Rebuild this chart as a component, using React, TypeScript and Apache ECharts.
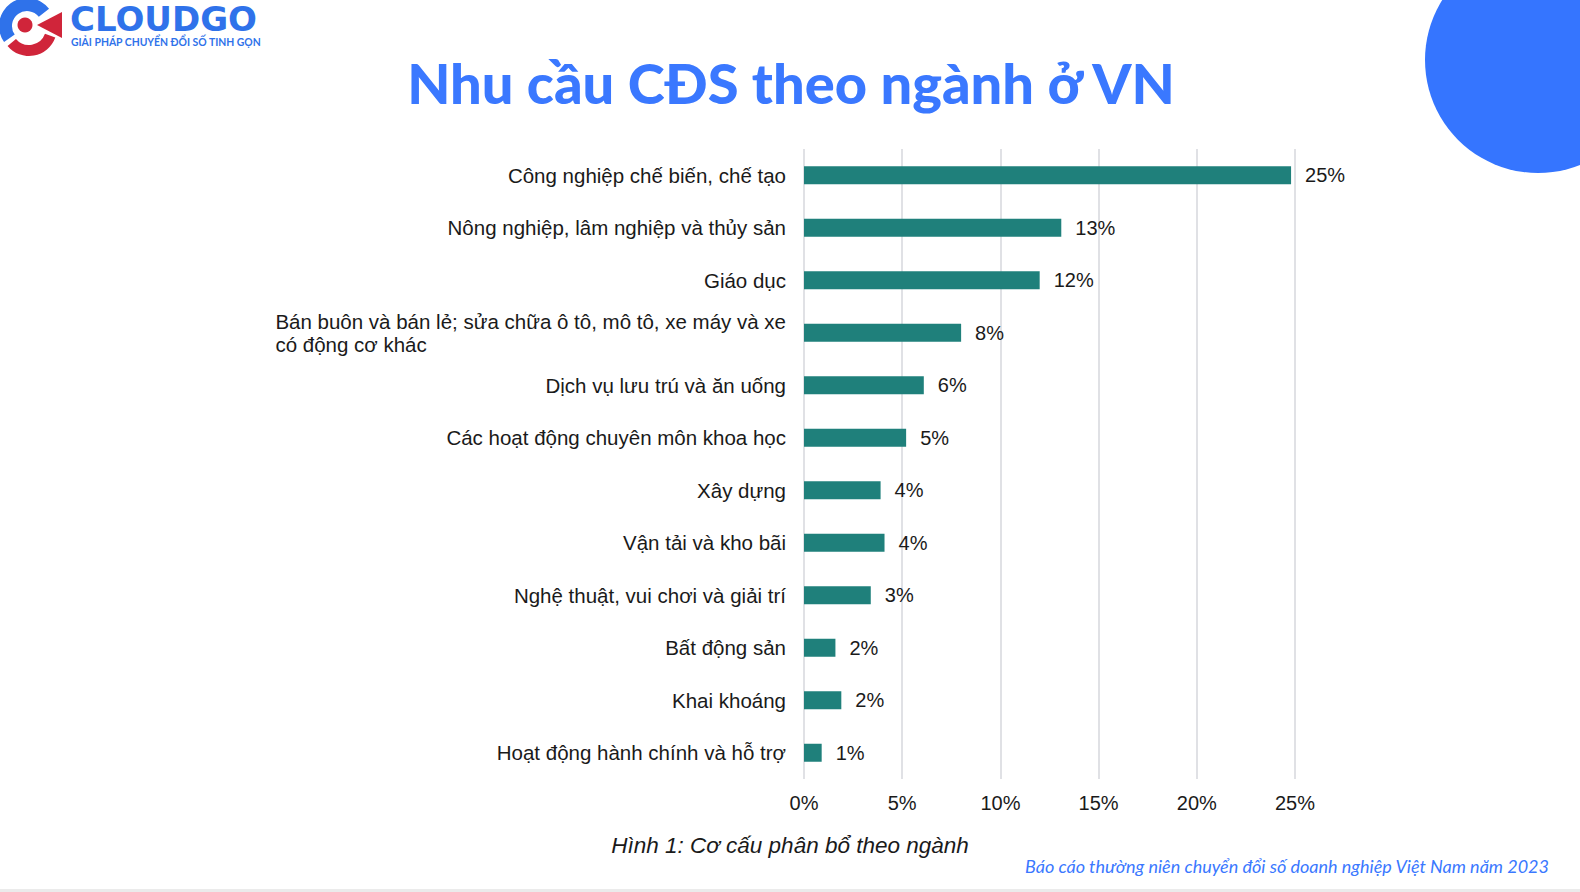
import React, { useEffect, useRef } from "react";
import * as echarts from "echarts";

const categories: string[] = [
  "Công nghiệp chế biến, chế tạo",
  "Nông nghiệp, lâm nghiệp và thủy sản",
  "Giáo dục",
  "Bán buôn và bán lẻ; sửa chữa ô tô, mô tô, xe máy và xe\ncó động cơ khác",
  "Dịch vụ lưu trú và ăn uống",
  "Các hoạt động chuyên môn khoa học",
  "Xây dựng",
  "Vận tải và kho bãi",
  "Nghệ thuật, vui chơi và giải trí",
  "Bất động sản",
  "Khai khoáng",
  "Hoạt động hành chính và hỗ trợ",
];

const shares: number[] = [24.8, 13.1, 12.0, 8.0, 6.1, 5.2, 3.9, 4.1, 3.4, 1.6, 1.9, 0.9];

const xTicks = { min: 0, max: 25, interval: 5 };

const titleText = "Nhu cầu CĐS theo ngành ở VN";
const captionText = "Hình 1: Cơ cấu phân bổ theo ngành";
const sourceText = "Báo cáo thường niên chuyển đổi số doanh nghiệp Việt Nam năm 2023";
const brandName = "CLOUDGO";
const brandTagline = "GIẢI PHÁP CHUYỂN ĐỔI SỐ TINH GỌN";

const BLUE = "#3a78ff";
const TEAL = "#1f807b";
const RED = "#d0253a";
const TEXT = "#1a1a1a";
const LABEL_FONT = 20.5;

export default function App() {
  const ref = useRef<HTMLDivElement>(null);

  useEffect(() => {
    document.body.style.margin = "0";
    if (!ref.current) return;
    const chart = echarts.init(ref.current, undefined, { renderer: "svg" });

    chart.setOption({
      animation: false,
      backgroundColor: "#ffffff",
      grid: {
        left: 804,
        top: 149,
        width: 491,
        height: 630,
        containLabel: false,
        outerBoundsMode: "none",
      },
      xAxis: {
        type: "value",
        min: xTicks.min,
        max: xTicks.max,
        interval: xTicks.interval,
        axisLine: { show: false },
        axisTick: { show: false },
        splitLine: { show: true, lineStyle: { color: "#e0e1e5", width: 2 } },
        axisLabel: {
          formatter: "{value}%",
          fontSize: 20,
          fontFamily: "Liberation Sans",
          color: TEXT,
          margin: 14,
        },
      },
      yAxis: {
        type: "category",
        inverse: true,
        data: categories,
        axisLine: { show: false },
        axisTick: { show: false },
        splitLine: { show: false },
        axisLabel: {
          margin: 18,
          fontSize: LABEL_FONT,
          fontFamily: "Liberation Sans",
          color: TEXT,
          formatter: (v: string) =>
            v
              .split("\n")
              .map((l) => `{l|${l}}`)
              .join("\n"),
          rich: {
            l: {
              align: "left",
              fontSize: LABEL_FONT,
              lineHeight: 23,
              fontFamily: "Liberation Sans",
              color: TEXT,
            },
          },
        },
      },
      series: [
        {
          type: "bar",
          data: shares,
          barWidth: 18,
          itemStyle: { color: TEAL },
          label: {
            show: true,
            position: "right",
            distance: 14,
            fontSize: 20,
            fontFamily: "Liberation Sans",
            color: TEXT,
            formatter: (p: any) => `${Math.round(p.value)}%`,
          },
        },
      ],
      graphic: [
        {
          type: "circle",
          shape: { cx: 1538, cy: 60, r: 113 },
          style: { fill: "#3575ff" },
          silent: true,
        },
        {
          type: "rect",
          shape: { x: 0, y: 889, width: 1580, height: 3 },
          style: { fill: "#ebebeb" },
          silent: true,
        },
        // logo icon
        {
          type: "sector",
          shape: {
            cx: 27,
            cy: 26,
            r: 28,
            r0: 15,
            startAngle: (-215 * Math.PI) / 180,
            endAngle: (-38 * Math.PI) / 180,
            clockwise: true,
          },
          style: { fill: "#2f72ea" },
          silent: true,
        },
        {
          type: "sector",
          shape: {
            cx: 29,
            cy: 28,
            r: 28,
            r0: 17,
            startAngle: (20 * Math.PI) / 180,
            endAngle: (140 * Math.PI) / 180,
            clockwise: true,
          },
          style: { fill: RED },
          silent: true,
        },
        {
          type: "circle",
          shape: { cx: 25, cy: 25, r: 7.5 },
          style: { fill: RED },
          silent: true,
        },
        {
          type: "polygon",
          shape: { points: [[37, 25], [62, 12], [62, 38]] },
          style: { fill: RED },
          silent: true,
        },
        {
          type: "text",
          x: 70,
          y: 18.5,
          style: {
            text: brandName,
            fontSize: 34,
            lineHeight: 30,
            fontWeight: "bold",
            fontFamily: "DejaVu Sans",
            fill: "#2f72ea",
            align: "left",
            verticalAlign: "middle",
          },
          silent: true,
        },
        {
          type: "text",
          x: 71,
          y: 42,
          style: {
            text: brandTagline,
            fontSize: 10.4,
            lineHeight: 11,
            fontWeight: "bold",
            fontFamily: "Lato",
            fill: "#2f72ea",
            align: "left",
            verticalAlign: "middle",
          },
          silent: true,
        },
        {
          type: "text",
          x: 791,
          y: 82,
          style: {
            text: titleText,
            fontSize: 56,
            fontWeight: 900,
            fontFamily: "Lato",
            fill: BLUE,
            align: "center",
            verticalAlign: "middle",
          },
          silent: true,
        },
        {
          type: "text",
          x: 790,
          y: 845,
          style: {
            text: captionText,
            fontSize: 22.5,
            fontStyle: "italic",
            fontFamily: "Liberation Sans",
            fill: TEXT,
            align: "center",
            verticalAlign: "middle",
          },
          silent: true,
        },
        {
          type: "text",
          x: 1549,
          y: 866,
          style: {
            text: sourceText,
            fontSize: 18,
            fontStyle: "italic",
            fontFamily: "Lato",
            fill: BLUE,
            align: "right",
            verticalAlign: "middle",
          },
          silent: true,
        },
      ],
    });

    return () => chart.dispose();
  }, []);

  return <div ref={ref} style={{ width: 1580, height: 892 }} />;
}
